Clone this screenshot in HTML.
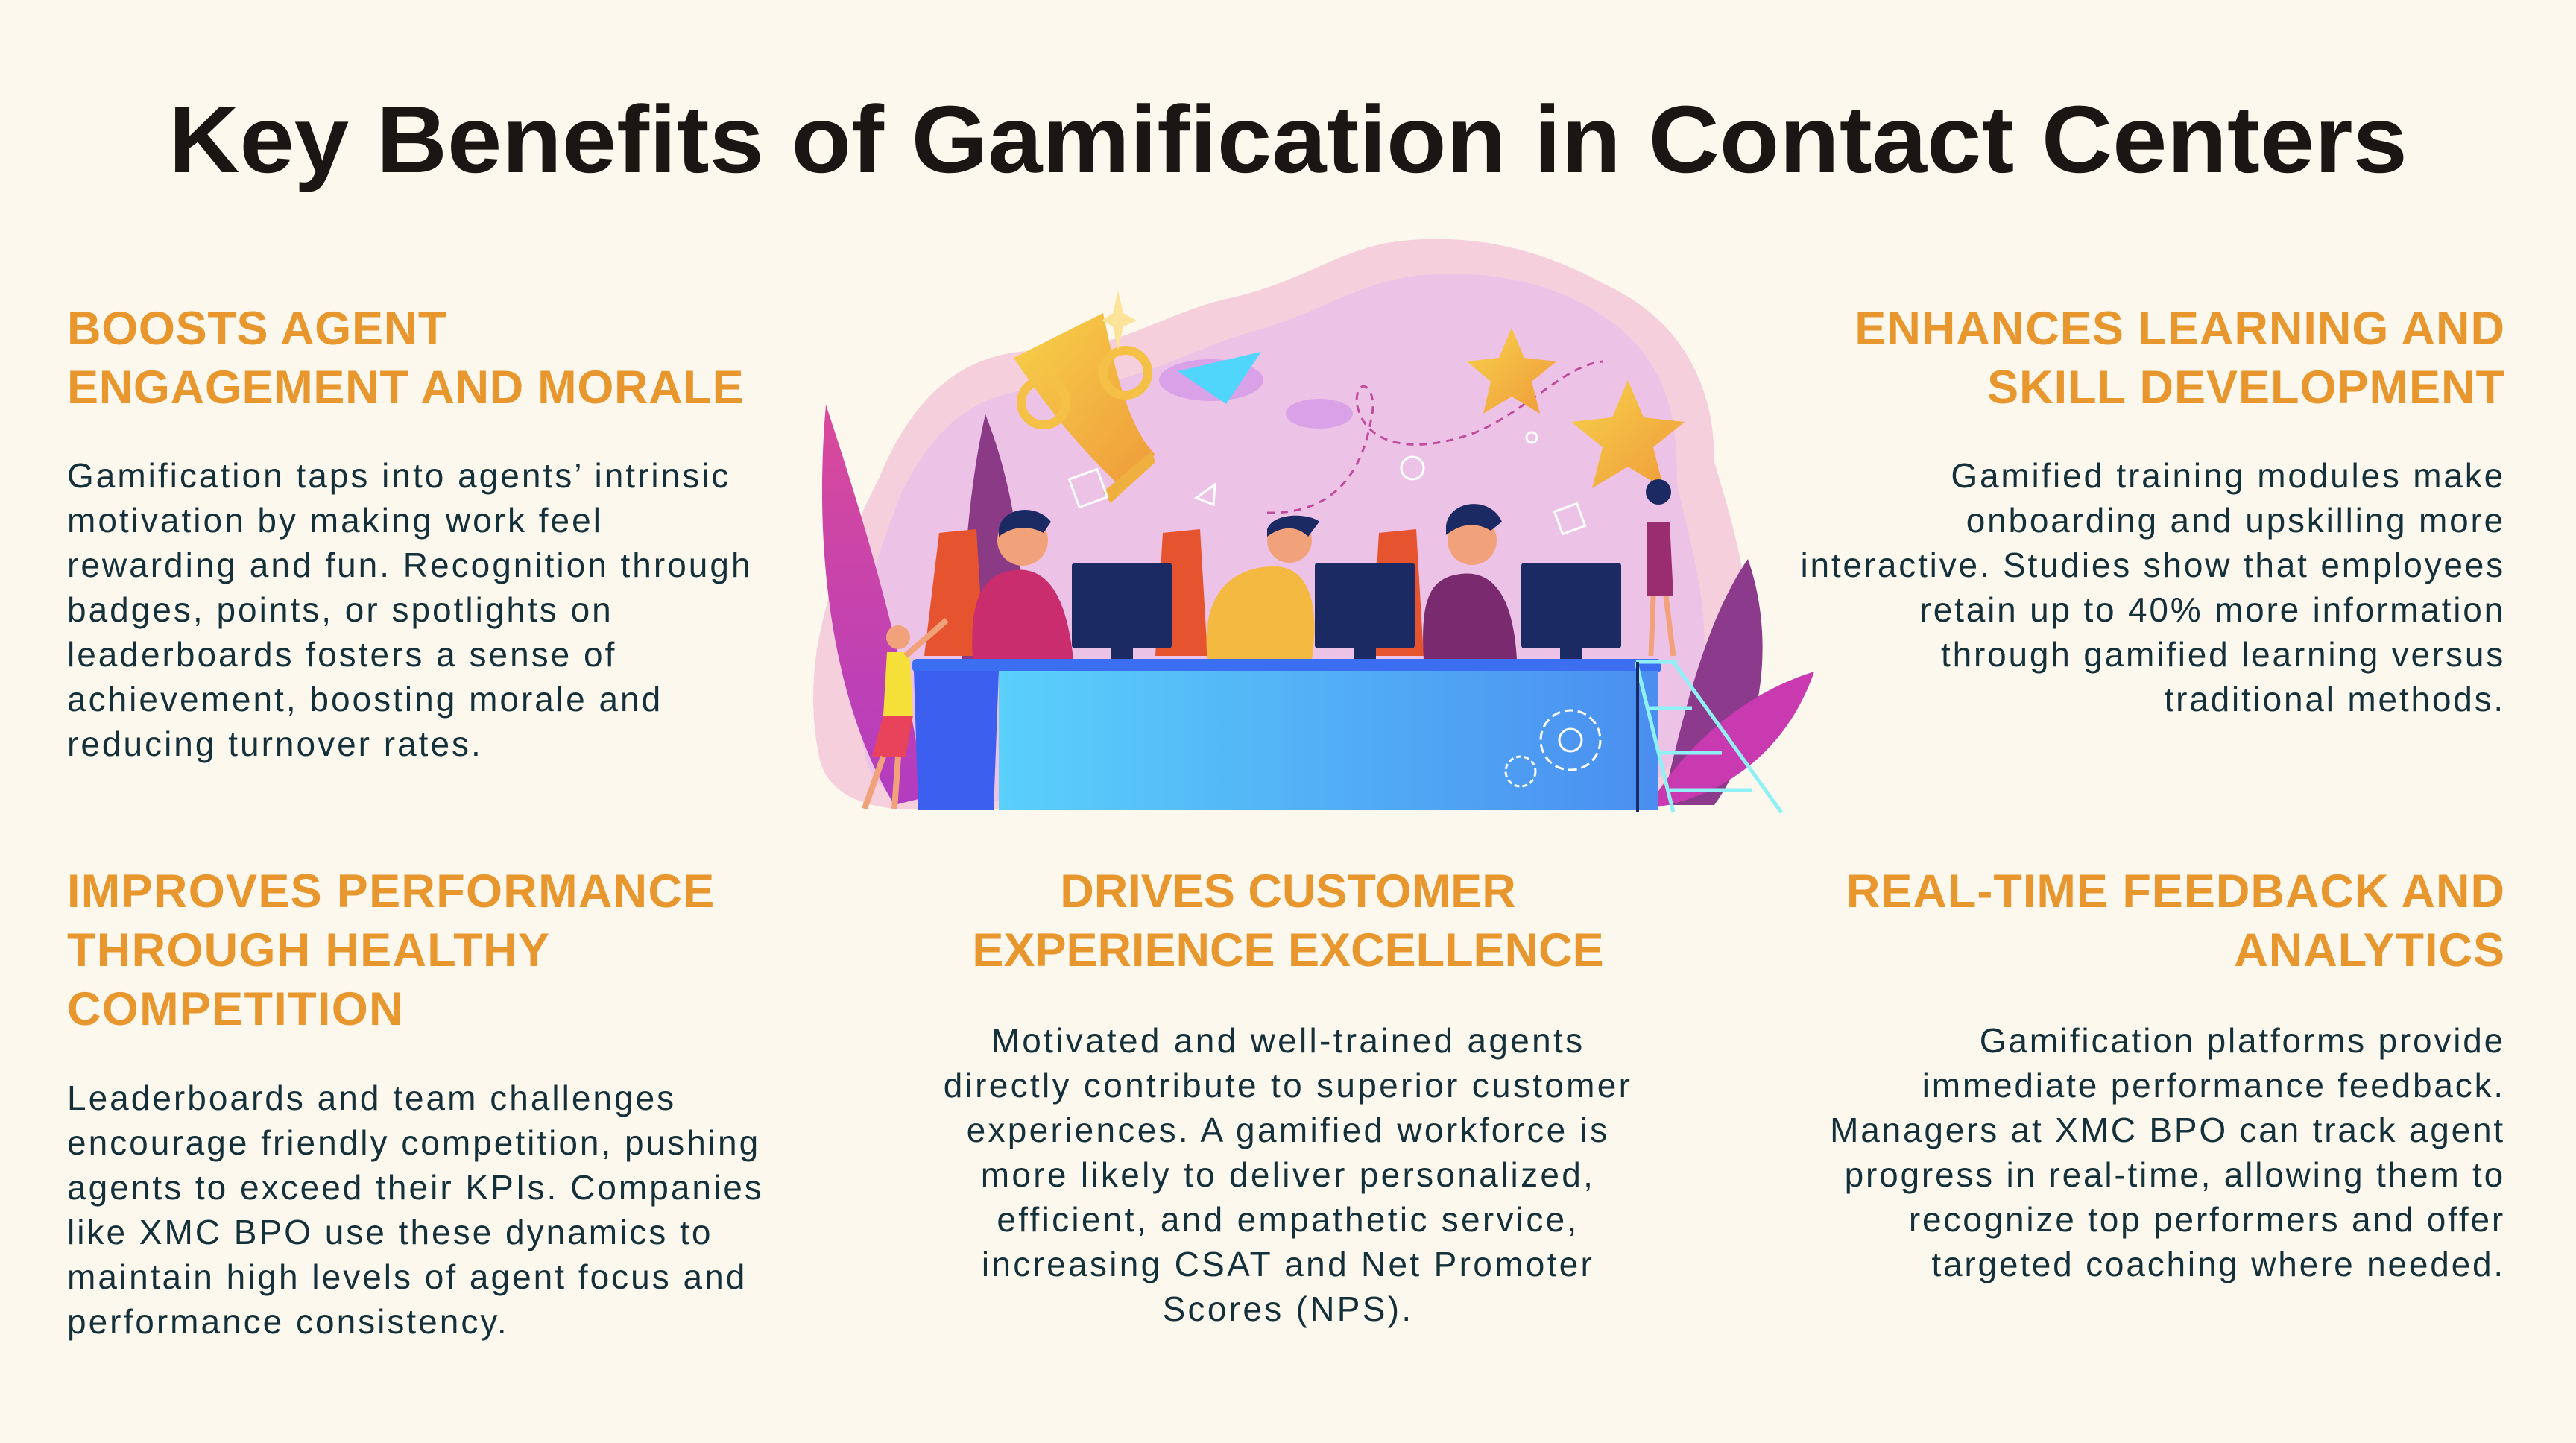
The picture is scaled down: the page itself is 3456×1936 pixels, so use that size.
<!DOCTYPE html>
<html><head><meta charset="utf-8"><style>
html,body{margin:0;padding:0}
body{width:3456px;height:1936px;background:#fdf8ee;position:relative;overflow:hidden;font-family:"Liberation Sans",sans-serif}
.t{position:absolute;white-space:nowrap}
.title{left:0;width:3456px;top:124px;text-align:center;font-size:128px;line-height:128px;font-weight:bold;color:#1a1614}
.title span{display:inline-block;transform:scaleX(1.03)}
.h{font-size:63px;line-height:79px;font-weight:bold;color:#e8962e;letter-spacing:0.7px}
.b{font-size:46px;line-height:60px;color:#14303a;letter-spacing:3px}
.l{left:90px}
.r{right:95px;text-align:right}
.c{left:0;width:3456px;text-align:center}
</style></head><body>
<div class="t title"><span>Key Benefits of Gamification in Contact Centers</span></div>

<div class="t h l" style="top:402px">BOOSTS AGENT<br>ENGAGEMENT AND MORALE</div>
<div class="t b l" style="top:608px">Gamification taps into agents’ intrinsic<br>motivation by making work feel<br>rewarding and fun. Recognition through<br>badges, points, or spotlights on<br>leaderboards fosters a sense of<br>achievement, boosting morale and<br>reducing turnover rates.</div>

<div class="t h r" style="top:402px;letter-spacing:1px">ENHANCES LEARNING AND<br>SKILL DEVELOPMENT</div>
<div class="t b r" style="top:608px;letter-spacing:2.8px">Gamified training modules make<br>onboarding and upskilling more<br>interactive. Studies show that employees<br>retain up to 40% more information<br>through gamified learning versus<br>traditional methods.</div>

<div class="t h l" style="top:1157px;letter-spacing:1.3px">IMPROVES PERFORMANCE<br>THROUGH HEALTHY<br>COMPETITION</div>
<div class="t b l" style="top:1443px">Leaderboards and team challenges<br>encourage friendly competition, pushing<br>agents to exceed their KPIs. Companies<br>like XMC BPO use these dynamics to<br>maintain high levels of agent focus and<br>performance consistency.</div>

<div class="t h c" style="top:1157px;letter-spacing:0">DRIVES CUSTOMER<br>EXPERIENCE EXCELLENCE</div>
<div class="t b c" style="top:1366px;letter-spacing:3.3px">Motivated and well-trained agents<br>directly contribute to superior customer<br>experiences. A gamified workforce is<br>more likely to deliver personalized,<br>efficient, and empathetic service,<br>increasing CSAT and Net Promoter<br>Scores (NPS).</div>

<div class="t h r" style="top:1157px;letter-spacing:1px">REAL-TIME FEEDBACK AND<br>ANALYTICS</div>
<div class="t b r" style="top:1366px;letter-spacing:2.8px">Gamification platforms provide<br>immediate performance feedback.<br>Managers at XMC BPO can track agent<br>progress in real-time, allowing them to<br>recognize top performers and offer<br>targeted coaching where needed.</div>

<svg style="position:absolute;left:0;top:0" width="3456" height="1936" viewBox="0 0 3456 1936">
<defs>
<linearGradient id="desk" x1="0" x2="1"><stop offset="0" stop-color="#5ad0fb"/><stop offset="1" stop-color="#4a8ef0"/></linearGradient>
<linearGradient id="leaf1" x1="0" y1="0" x2="0" y2="1"><stop offset="0" stop-color="#d94a9a"/><stop offset="1" stop-color="#b23cc0"/></linearGradient>
<linearGradient id="gold" x1="0" y1="0" x2="1" y2="1"><stop offset="0" stop-color="#f7d24a"/><stop offset="1" stop-color="#ef9a3a"/></linearGradient>
</defs>
<path d="M1100 1020 C1070 880 1120 760 1180 640 C1230 520 1300 470 1400 470 C1500 470 1560 420 1650 400 C1740 380 1790 340 1860 326 C1960 310 2060 330 2150 380 C2260 430 2300 520 2300 620 C2330 720 2360 820 2340 930 C2320 1040 2260 1080 2200 1085 L1200 1085 C1150 1080 1110 1060 1100 1020Z" fill="#f6cfdc"/>
<path d="M1160 1010 C1130 880 1170 760 1210 660 C1260 560 1320 520 1420 520 C1520 520 1590 470 1680 445 C1770 420 1820 380 1900 370 C2000 360 2090 380 2160 430 C2240 490 2250 560 2250 650 C2270 740 2300 830 2280 930 C2260 1030 2210 1070 2150 1075 L1230 1075 C1190 1070 1165 1045 1160 1010Z" fill="#ecc3e6"/>
<path d="M1108 543 C1160 700 1220 900 1240 1070 L1200 1080 C1120 950 1090 750 1108 543Z" fill="url(#leaf1)"/>
<path d="M1322 556 C1360 650 1380 780 1370 900 L1290 900 C1290 780 1300 650 1322 556Z" fill="#8b3a86"/>
<path d="M2345 750 C2380 850 2370 980 2300 1080 L2230 1080 C2260 950 2290 830 2345 750Z" fill="#8c3a8c"/>
<path d="M2434 901 C2400 1000 2320 1070 2210 1085 C2260 1000 2340 930 2434 901Z" fill="#c93ab0"/>
<path d="M1700 688 C1800 690 1830 620 1840 560 C1850 520 1820 500 1820 540 C1830 600 1900 610 1980 580 C2050 550 2100 490 2150 485" fill="none" stroke="#c04c9c" stroke-width="3" stroke-dasharray="10 8"/>
<ellipse cx="1625" cy="510" rx="70" ry="28" fill="#d9a2e8"/>
<ellipse cx="1770" cy="555" rx="45" ry="20" fill="#d9a2e8"/>
<polygon points="1580,498 1692,472 1645,542" fill="#50d6fb"/>
<path d="M1360 480 L1480 420 C1500 520 1520 580 1550 610 L1500 650 C1460 610 1420 570 1360 480Z" fill="url(#gold)"/>
<path d="M1480 660 L1545 605 L1550 620 L1490 675Z" fill="#f0b040"/>
<circle cx="1400" cy="540" r="30" fill="none" stroke="#f4c045" stroke-width="12"/>
<circle cx="1510" cy="500" r="30" fill="none" stroke="#f4c045" stroke-width="12"/>
<polygon points="1500,390 1507,420 1525,430 1507,438 1500,470 1493,438 1478,430 1493,420" fill="#fbe49a"/>
<polygon points="2028,440 2045,480 2088,485 2055,512 2066,555 2028,532 1990,555 2000,512 1968,485 2011,480" fill="url(#gold)"/>
<polygon points="2184,510 2205,560 2260,566 2218,600 2232,655 2184,626 2136,655 2150,600 2108,566 2163,560" fill="url(#gold)"/>
<circle cx="1895" cy="628" r="15" fill="none" stroke="#fff" stroke-width="3"/>
<circle cx="2055" cy="587" r="7" fill="none" stroke="#fff" stroke-width="3"/>
<polygon points="1630,650 1628,677 1605,668" fill="none" stroke="#fff" stroke-width="3"/>
<rect x="1440" y="635" width="40" height="40" fill="none" stroke="#fff" stroke-width="3" transform="rotate(-20 1460 655)"/>
<rect x="2090" y="680" width="32" height="32" fill="none" stroke="#fff" stroke-width="3" transform="rotate(-20 2106 696)"/>
<path d="M1240 880 L1260 715 L1310 710 L1320 880Z" fill="#e5542e"/>
<path d="M1550 880 L1560 715 L1610 710 L1620 880Z" fill="#e5542e"/>
<path d="M1840 880 L1850 715 L1900 710 L1910 880Z" fill="#e5542e"/>
<path d="M1305 885 C1300 800 1320 770 1360 765 C1400 760 1430 790 1440 885Z" fill="#c92d6e"/>
<circle cx="1372" cy="725" r="34" fill="#f2a27a"/>
<path d="M1340 710 C1345 680 1390 675 1410 700 L1400 715 C1380 705 1360 705 1340 720Z" fill="#1c2a63"/>
<path d="M1620 885 C1610 800 1650 760 1710 760 C1760 760 1770 820 1760 885Z" fill="#f4b940"/>
<circle cx="1730" cy="725" r="30" fill="#f2a27a"/>
<path d="M1700 710 C1710 685 1760 690 1770 700 L1755 720 C1740 705 1720 705 1700 720Z" fill="#1c2a63"/>
<path d="M1910 885 C1905 800 1920 775 1960 770 C2000 765 2030 795 2035 885Z" fill="#7a2a6e"/>
<circle cx="1975" cy="725" r="33" fill="#f2a27a"/>
<path d="M1940 705 C1945 670 2000 665 2015 700 L2000 712 C1980 700 1960 702 1940 718Z" fill="#1c2a63"/>
<g fill="#1c2a63">
<rect x="1438" y="755" width="134" height="115" rx="4"/><rect x="1490" y="860" width="30" height="25"/>
<rect x="1764" y="755" width="134" height="115" rx="4"/><rect x="1816" y="860" width="30" height="25"/>
<rect x="2041" y="755" width="134" height="115" rx="4"/><rect x="2093" y="860" width="30" height="25"/>
</g>
<rect x="1224" y="884" width="1005" height="18" rx="6" fill="#3b6ef0"/>
<path d="M1226 900 L1340 900 L1333 1087 L1232 1087Z" fill="#3d5ff0"/>
<rect x="1340" y="900" width="885" height="187" fill="url(#desk)"/>
<circle cx="2107" cy="993" r="40" fill="none" stroke="#fff" stroke-width="3" stroke-dasharray="12 6"/>
<circle cx="2107" cy="993" r="15" fill="none" stroke="#fff" stroke-width="3"/>
<circle cx="2040" cy="1035" r="20" fill="none" stroke="#fff" stroke-width="3" stroke-dasharray="7 4"/>
<circle cx="1205" cy="855" r="16" fill="#f2a27a"/>
<path d="M1190 875 L1220 875 L1225 960 L1185 960Z" fill="#f5e03a"/>
<path d="M1185 960 L1225 960 L1215 1015 L1170 1015Z" fill="#e8435a"/>
<path d="M1185 1015 L1160 1085 M1205 1015 L1200 1085" stroke="#f2a27a" stroke-width="8"/>
<path d="M1215 880 L1270 832" stroke="#f2a27a" stroke-width="8"/>
<circle cx="2225" cy="660" r="17" fill="#1c2a63"/>
<path d="M2210 700 L2240 700 L2245 800 L2210 800Z" fill="#9a2d70"/>
<path d="M2218 800 L2215 880 M2235 800 L2245 880" stroke="#f2a27a" stroke-width="7"/>
<g stroke="#8ff0f6" stroke-width="5" fill="none">
<path d="M2195 888 L2245 1090 M2245 888 L2390 1090 M2195 888 L2250 888 M2210 950 L2270 950 M2225 1010 L2310 1010 M2240 1060 L2350 1060"/>
</g>
<path d="M2197 888 L2197 1090" stroke="#1c2a63" stroke-width="4"/>
</svg>
</body></html>
